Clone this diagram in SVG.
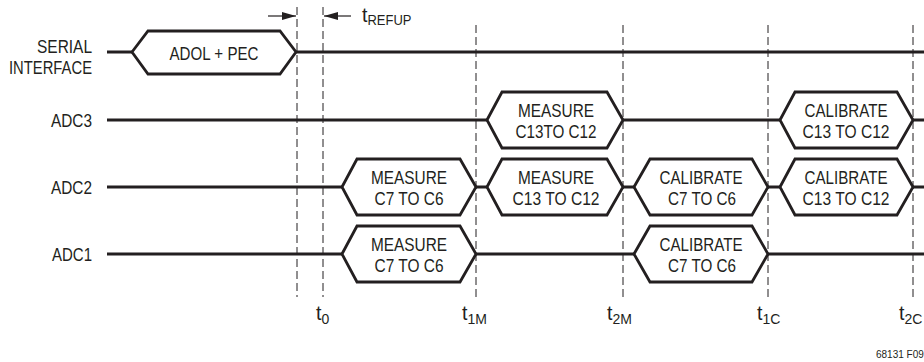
<svg xmlns="http://www.w3.org/2000/svg" width="924" height="362" viewBox="0 0 924 362">
<style>
text{font-family:"Liberation Sans",Arial,sans-serif;fill:#231f20}
.lbl{font-size:17.5px;text-anchor:end}
.box{font-size:18.5px;text-anchor:middle}
.t{font-size:19.5px}
.sub{font-size:14px}
.sig{fill:none;stroke:#231f20;stroke-width:2.8}
.hex{fill:#fff;stroke:#231f20;stroke-width:2.8;stroke-linejoin:miter}
.guide{fill:none;stroke:#231f20;stroke-width:1;stroke-dasharray:8 4}
.arr{fill:none;stroke:#231f20;stroke-width:1.2}
</style>
<defs>
<marker id="ah" viewBox="0 0 14 8" refX="14" refY="4" markerWidth="14" markerHeight="8" markerUnits="userSpaceOnUse" orient="auto">
<path d="M0,0 L14,4 L0,8 Z" fill="#231f20"/>
</marker>
</defs>
<rect width="924" height="362" fill="#fff"/>

<g id="guides">
<line class="guide" x1="297" y1="7" x2="297" y2="297"/>
<line class="guide" x1="323" y1="7" x2="323" y2="297"/>
<line class="guide" x1="476" y1="25" x2="476" y2="297"/>
<line class="guide" x1="623" y1="25" x2="623" y2="297"/>
<line class="guide" x1="768" y1="25" x2="768" y2="297"/>
<line class="guide" x1="913" y1="25" x2="913" y2="297"/>
</g>

<g id="connectors">
<path class="sig" d="M107,52H132M296,52H924"/>
<path class="sig" d="M107,120H487M623,120H780M913,120H924"/>
<path class="sig" d="M107,187H342M476,187H487M623,187H634M768,187H780M913,187H924"/>
<path class="sig" d="M107,254H342M476,254H634M768,254H924"/>
<line class="arr" x1="268" y1="16" x2="296" y2="16" marker-end="url(#ah)"/>
<line class="arr" x1="351" y1="16" x2="324" y2="16" marker-end="url(#ah)"/>
</g>

<g id="labels">
<text class="lbl" x="92" y="53" textLength="55" lengthAdjust="spacingAndGlyphs">SERIAL</text>
<text class="lbl" x="92" y="74" textLength="83" lengthAdjust="spacingAndGlyphs">INTERFACE</text>
<text class="lbl" x="92" y="127" textLength="41" lengthAdjust="spacingAndGlyphs">ADC3</text>
<text class="lbl" x="92" y="194" textLength="41" lengthAdjust="spacingAndGlyphs">ADC2</text>
<text class="lbl" x="92" y="261" textLength="40" lengthAdjust="spacingAndGlyphs">ADC1</text>
</g>

<g id="serial-adol">
<polygon class="hex" points="132,52 148,31 280,31 296,52 280,74 148,74"/>
<text class="box" x="214" y="60" textLength="89" lengthAdjust="spacingAndGlyphs">ADOL + PEC</text>
</g>

<g id="adc3-measure">
<polygon class="hex" points="487,120 502,92 607,92 623,120 607,148 502,148"/>
<text class="box" x="556" y="117" textLength="76" lengthAdjust="spacingAndGlyphs">MEASURE</text>
<text class="box" x="556" y="138" textLength="81" lengthAdjust="spacingAndGlyphs">C13TO C12</text>
</g>
<g id="adc3-calibrate">
<polygon class="hex" points="780,120 795,92 897,92 913,120 897,148 795,148"/>
<text class="box" x="846" y="117" textLength="83" lengthAdjust="spacingAndGlyphs">CALIBRATE</text>
<text class="box" x="846" y="138" textLength="87" lengthAdjust="spacingAndGlyphs">C13 TO C12</text>
</g>

<g id="adc2-measure-c7">
<polygon class="hex" points="342,187 357,159 460,159 476,187 460,215 357,215"/>
<text class="box" x="409" y="184" textLength="76" lengthAdjust="spacingAndGlyphs">MEASURE</text>
<text class="box" x="409" y="205" textLength="69" lengthAdjust="spacingAndGlyphs">C7 TO C6</text>
</g>
<g id="adc2-measure-c13">
<polygon class="hex" points="487,187 502,159 607,159 623,187 607,215 502,215"/>
<text class="box" x="556" y="184" textLength="76" lengthAdjust="spacingAndGlyphs">MEASURE</text>
<text class="box" x="556" y="205" textLength="87" lengthAdjust="spacingAndGlyphs">C13 TO C12</text>
</g>
<g id="adc2-calibrate-c7">
<polygon class="hex" points="634,187 650,159 752,159 768,187 752,215 650,215"/>
<text class="box" x="701" y="184" textLength="83" lengthAdjust="spacingAndGlyphs">CALIBRATE</text>
<text class="box" x="702" y="205" textLength="68" lengthAdjust="spacingAndGlyphs">C7 TO C6</text>
</g>
<g id="adc2-calibrate-c13">
<polygon class="hex" points="780,187 795,159 897,159 913,187 897,215 795,215"/>
<text class="box" x="846" y="184" textLength="83" lengthAdjust="spacingAndGlyphs">CALIBRATE</text>
<text class="box" x="846" y="205" textLength="87" lengthAdjust="spacingAndGlyphs">C13 TO C12</text>
</g>

<g id="adc1-measure-c7">
<polygon class="hex" points="342,254 357,226 460,226 476,254 460,282 357,282"/>
<text class="box" x="409" y="251" textLength="76" lengthAdjust="spacingAndGlyphs">MEASURE</text>
<text class="box" x="409" y="272" textLength="69" lengthAdjust="spacingAndGlyphs">C7 TO C6</text>
</g>
<g id="adc1-calibrate-c7">
<polygon class="hex" points="634,254 650,226 752,226 768,254 752,282 650,282"/>
<text class="box" x="701" y="251" textLength="83" lengthAdjust="spacingAndGlyphs">CALIBRATE</text>
<text class="box" x="702" y="272" textLength="68" lengthAdjust="spacingAndGlyphs">C7 TO C6</text>
</g>

<g id="time-labels">
<text class="t" x="362" y="22">t<tspan class="sub" dy="3" textLength="44" lengthAdjust="spacingAndGlyphs">REFUP</tspan></text>
<text class="t" x="316" y="320">t<tspan class="sub" dy="4">0</tspan></text>
<text class="t" x="462" y="320">t<tspan class="sub" dy="4">1M</tspan></text>
<text class="t" x="607" y="320">t<tspan class="sub" dy="4">2M</tspan></text>
<text class="t" x="757" y="320">t<tspan class="sub" dy="4">1C</tspan></text>
<text class="t" x="899" y="320">t<tspan class="sub" dy="4">2C</tspan></text>
<text x="876" y="358" style="font-size:10px">68131 F09</text>
</g>
</svg>
